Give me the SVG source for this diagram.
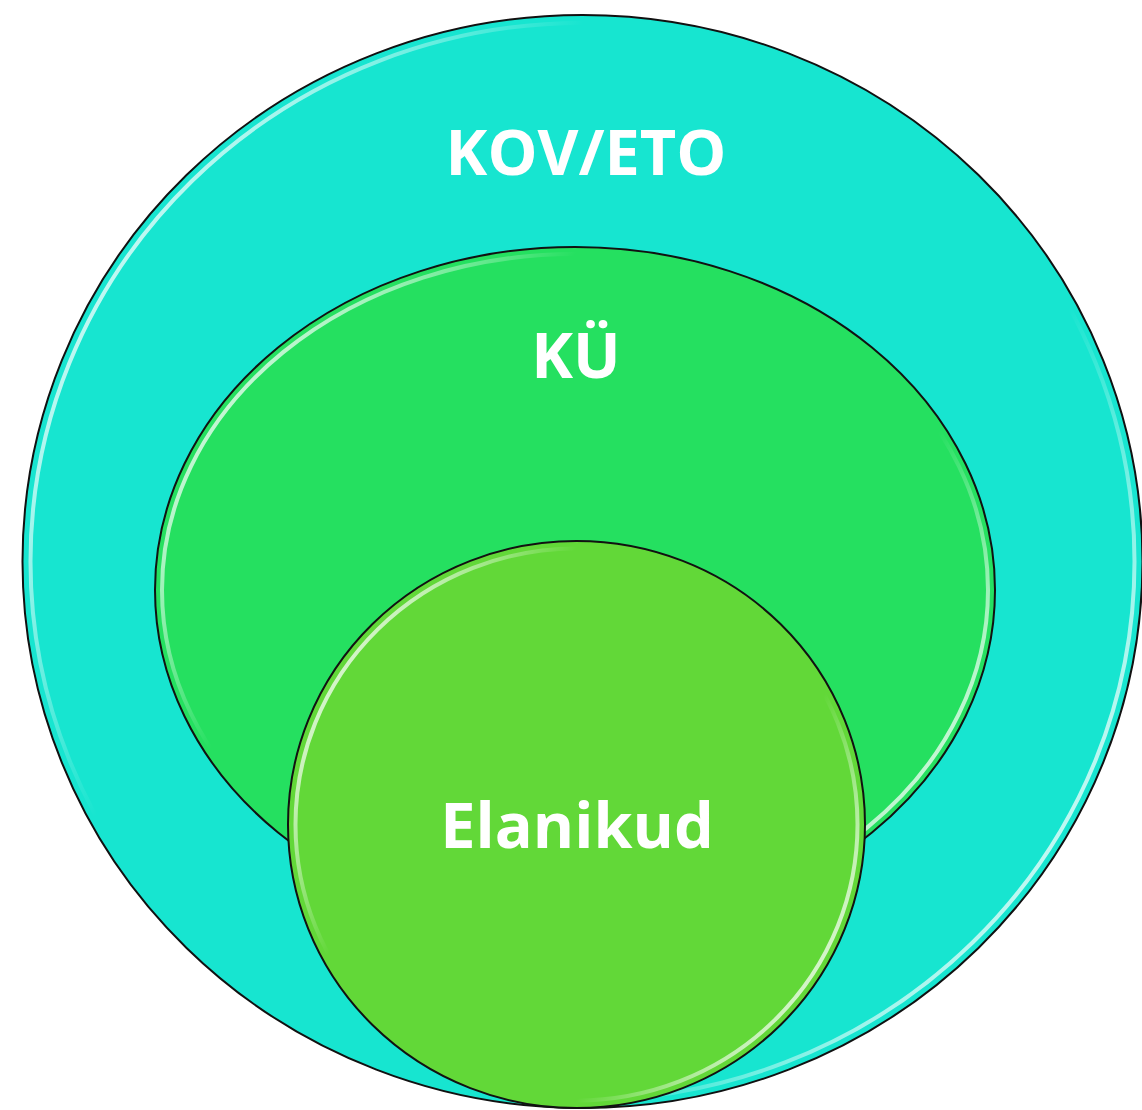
<svg xmlns="http://www.w3.org/2000/svg" width="1142" height="1110" viewBox="0 0 1142 1110">
<style>
.edge{stroke:#111;stroke-width:2}
.hl{fill:none;stroke-width:4}
.lbl{font-family:"Open Sans","Liberation Sans",sans-serif;font-weight:bold;font-size:63px;fill:#fff;text-anchor:middle}
</style>
<defs>
<linearGradient id="hlg" x1="0" y1="0.2" x2="1" y2="0.8">
<stop offset="0" stop-color="#fff" stop-opacity="0.9"/>
<stop offset="0.12" stop-color="#fff" stop-opacity="0.6"/>
<stop offset="0.28" stop-color="#fff" stop-opacity="0"/>
<stop offset="0.72" stop-color="#fff" stop-opacity="0"/>
<stop offset="0.88" stop-color="#fff" stop-opacity="0.6"/>
<stop offset="1" stop-color="#fff" stop-opacity="0.9"/>
</linearGradient>
</defs>
<rect width="1142" height="1110" fill="#fff"/>
<g id="outer">
<ellipse cx="582.5" cy="561.5" rx="560" ry="546.5" fill="#17E5D0" class="edge"/>
<ellipse cx="582.5" cy="561.5" rx="552" ry="538.5" class="hl" stroke="url(#hlg)"/>
<text x="586" y="175" class="lbl">KOV/ETO</text>
</g>
<g id="middle">
<ellipse cx="575" cy="590" rx="420" ry="343" fill="#25E060" class="edge"/>
<ellipse cx="575" cy="590" rx="413" ry="336" class="hl" stroke="url(#hlg)"/>
<text x="576" y="378" class="lbl">KÜ</text>
</g>
<g id="inner">
<ellipse cx="576.5" cy="824.5" rx="288.5" ry="283.5" fill="#62D838" class="edge"/>
<ellipse cx="576.5" cy="824.5" rx="281" ry="276" class="hl" stroke="url(#hlg)"/>
<text x="577" y="848" class="lbl">Elanikud</text>
</g>
<g id="connectors"/>
</svg>
